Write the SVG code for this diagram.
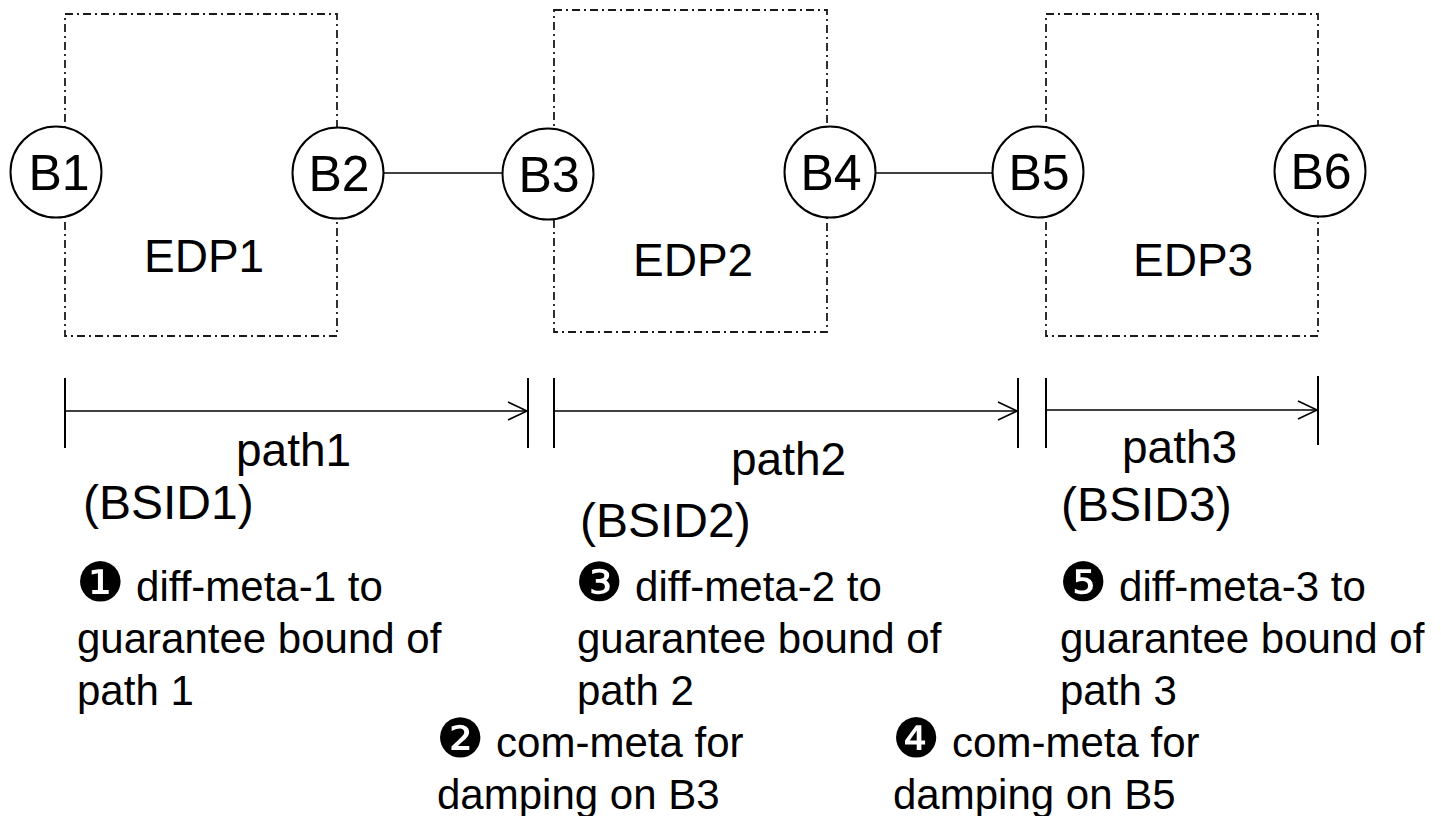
<svg xmlns="http://www.w3.org/2000/svg" width="1441" height="816" viewBox="0 0 1441 816">
  <style>
    .frame { fill: none; stroke: #1a1a1a; stroke-width: 1.8; stroke-dasharray: 8 4 2 4; }
    .node circle { fill: #fff; stroke: #000; stroke-width: 2; }
    .lbl { font-family: "Liberation Sans", Arial, sans-serif; font-size: 46px; fill: #000; }
    .blbl { font-family: "Liberation Sans", Arial, sans-serif; font-size: 50px; fill: #000; }
    .bsid { font-family: "Liberation Sans", Arial, sans-serif; font-size: 48px; fill: #000; }
    .note { font-family: "Liberation Sans", Arial, sans-serif; font-size: 42px; fill: #000; }
    .dg { font-family: "DejaVu Sans", sans-serif; font-size: 54px; }
    .wire { stroke: #000; stroke-width: 1.6; fill: none; }
    .tick { stroke: #000; stroke-width: 2; }
  </style>
  <defs>
    <marker id="openArrow" markerWidth="22" markerHeight="22" refX="20" refY="10" orient="auto" markerUnits="userSpaceOnUse">
      <path d="M1,1 L20,10 L1,19" fill="none" stroke="#000" stroke-width="1.6"/>
    </marker>
  </defs>
  <rect width="1441" height="816" fill="#fff"/>

  <!-- EDP domains -->
  <g id="edp1">
    <rect class="frame" x="65" y="14" width="272" height="322"/>
    <text class="lbl" x="144" y="272" font-size="47">EDP1</text>
  </g>
  <g id="edp2">
    <rect class="frame" x="554" y="10" width="273" height="322"/>
    <text class="lbl" x="633" y="276" font-size="47">EDP2</text>
  </g>
  <g id="edp3">
    <rect class="frame" x="1046" y="14" width="272" height="322"/>
    <text class="lbl" x="1133" y="276" font-size="47">EDP3</text>
  </g>

  <!-- connectors between border nodes -->
  <g id="connectors">
    <line class="wire" x1="384" y1="173" x2="502" y2="173"/>
    <line class="wire" x1="876" y1="173" x2="993" y2="173"/>
  </g>

  <!-- border nodes -->
  <g id="B1" class="node">
    <circle cx="56" cy="172" r="45.5"/>
    <text class="blbl" x="59" y="190" text-anchor="middle">B1</text>
  </g>
  <g id="B2" class="node">
    <circle cx="338" cy="173" r="45.5"/>
    <text class="blbl" x="339" y="191" text-anchor="middle">B2</text>
  </g>
  <g id="B3" class="node">
    <circle cx="548" cy="174" r="45.5"/>
    <text class="blbl" x="549" y="192" text-anchor="middle">B3</text>
  </g>
  <g id="B4" class="node">
    <circle cx="830" cy="172" r="45.5"/>
    <text class="blbl" x="831" y="190" text-anchor="middle">B4</text>
  </g>
  <g id="B5" class="node">
    <circle cx="1038" cy="172" r="45.5"/>
    <text class="blbl" x="1039" y="190" text-anchor="middle">B5</text>
  </g>
  <g id="B6" class="node">
    <circle cx="1320" cy="171" r="45.5"/>
    <text class="blbl" x="1321" y="189" text-anchor="middle">B6</text>
  </g>

  <!-- path spans -->
  <g id="path1">
    <line class="tick" x1="65" y1="378" x2="65" y2="448"/>
    <line class="tick" x1="528" y1="378" x2="528" y2="448"/>
    <line class="wire" x1="65" y1="411" x2="527" y2="411" marker-end="url(#openArrow)"/>
    <text class="lbl" x="236" y="466">path1</text>
    <text class="bsid" x="83" y="519">(BSID1)</text>
  </g>
  <g id="path2">
    <line class="tick" x1="554" y1="378" x2="554" y2="448"/>
    <line class="tick" x1="1018" y1="378" x2="1018" y2="448"/>
    <line class="wire" x1="554" y1="411" x2="1017" y2="411" marker-end="url(#openArrow)"/>
    <text class="lbl" x="731" y="475">path2</text>
    <text class="bsid" x="580" y="537">(BSID2)</text>
  </g>
  <g id="path3">
    <line class="tick" x1="1046" y1="378" x2="1046" y2="448"/>
    <line class="tick" x1="1318" y1="376" x2="1318" y2="445"/>
    <line class="wire" x1="1046" y1="410" x2="1317" y2="410" marker-end="url(#openArrow)"/>
    <text class="lbl" x="1122" y="463">path3</text>
    <text class="bsid" x="1061" y="521">(BSID3)</text>
  </g>

  <!-- step notes -->
  <g id="note1">
    <text class="note" x="76" y="601"><tspan class="dg">❶</tspan> diff-meta-1 to</text>
    <text class="note" x="77" y="653">guarantee bound of</text>
    <text class="note" x="77" y="705">path 1</text>
  </g>
  <g id="note2">
    <text class="note" x="436" y="757"><tspan class="dg">❷</tspan> com-meta for</text>
    <text class="note" x="437" y="809">damping on B3</text>
  </g>
  <g id="note3">
    <text class="note" x="575" y="601"><tspan class="dg">❸</tspan> diff-meta-2 to</text>
    <text class="note" x="577" y="653">guarantee bound of</text>
    <text class="note" x="577" y="705">path 2</text>
  </g>
  <g id="note4">
    <text class="note" x="892" y="757"><tspan class="dg">❹</tspan> com-meta for</text>
    <text class="note" x="893" y="809">damping on B5</text>
  </g>
  <g id="note5">
    <text class="note" x="1059" y="601"><tspan class="dg">❺</tspan> diff-meta-3 to</text>
    <text class="note" x="1060" y="653">guarantee bound of</text>
    <text class="note" x="1060" y="705">path 3</text>
  </g>
</svg>
